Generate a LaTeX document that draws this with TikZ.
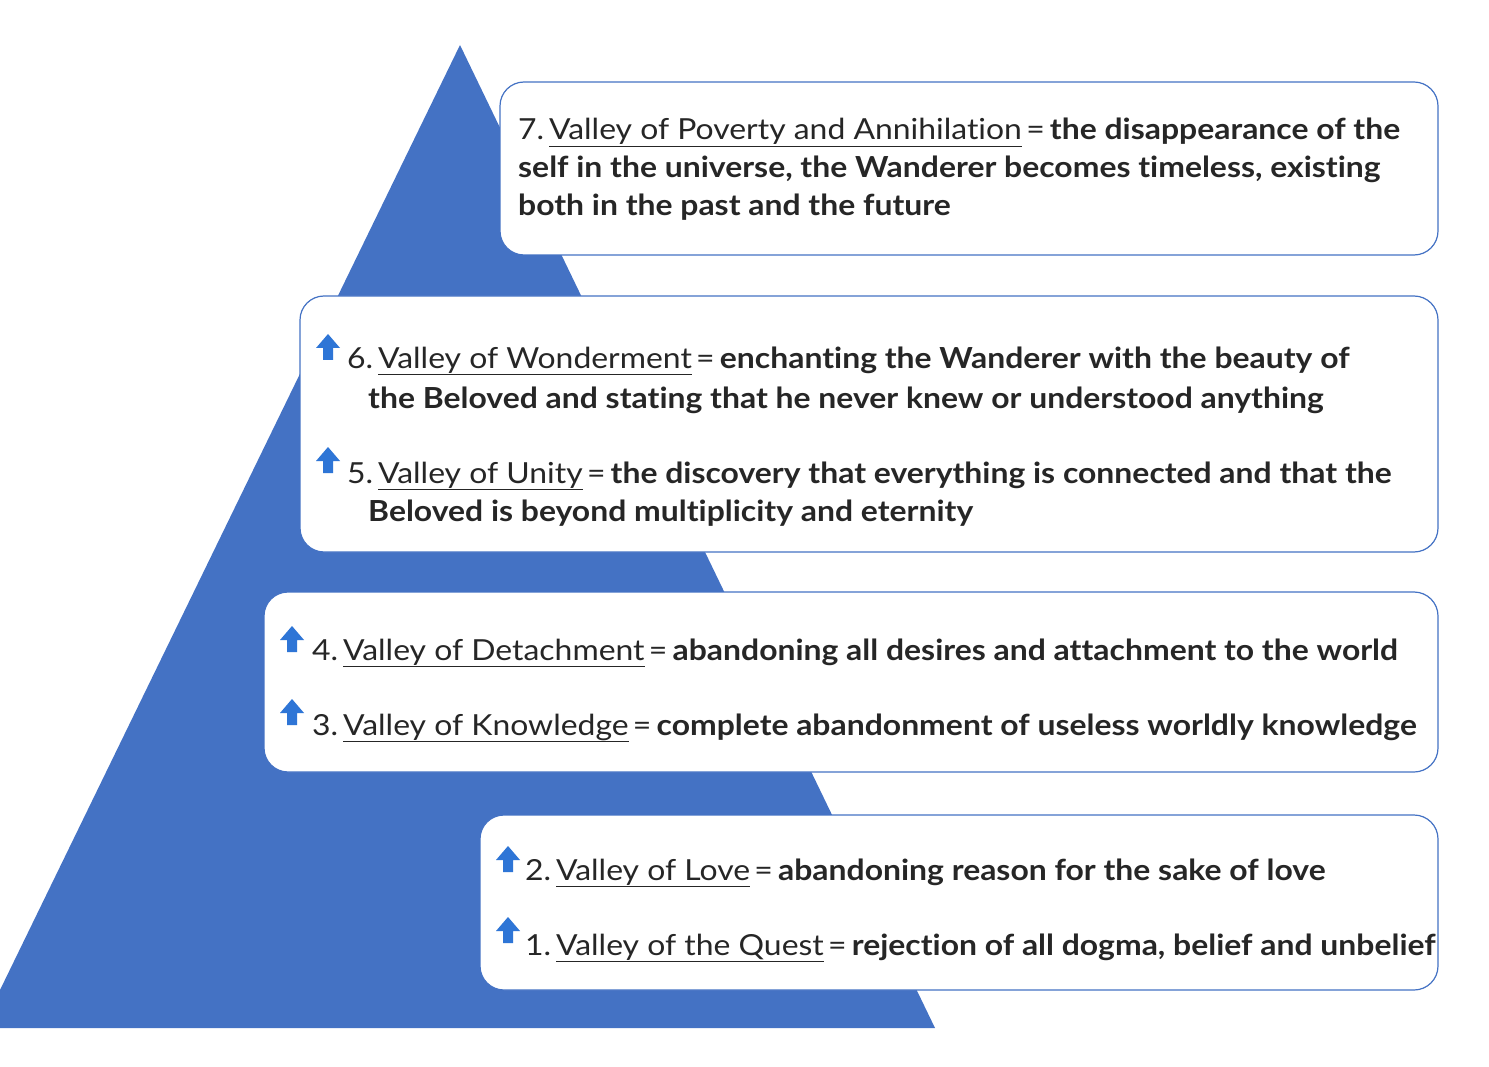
\documentclass[tikz,border=0pt]{standalone}
\usepackage{fontspec}
\setmainfont{Lato}[FakeStretch=1.1,Ligatures=NoCommon]
\usetikzlibrary{arrows.meta}
\definecolor{tri}{HTML}{4472C4}
\definecolor{arr}{HTML}{2E75D6}
\newcommand{\nm}[1]{\underline{#1}}
\newcommand{\eq}{\hspace{0.15em}=\hspace{0.18em}}
\tikzset{
 box/.style={draw=tri,line width=1.2pt,fill=white,rounded corners=24pt},
 txt/.style={anchor=base west,inner sep=0pt,font=\fontsize{29}{34}\selectfont,text=black!85},
 uparr/.style={fill=arr,draw=none}
}
\newcommand{\myup}[2]{\fill[uparr] (#1-12,#2) -- (#1,#2-14) -- (#1+12,#2) -- (#1+5,#2) -- (#1+5,#2+12) -- (#1-5,#2+12) -- (#1-5,#2) -- cycle;}
\begin{document}
\begin{tikzpicture}[x=1pt,y=-1pt]
\useasboundingbox (0,0) rectangle (1489,1067);
\fill[tri] (460,45) -- (935,1028) -- (0,1028) -- (0,990) -- cycle;
\draw[box] (500,82) rectangle (1438,255);
\draw[box] (300,296) rectangle (1438,552);
\draw[box] (264,592) rectangle (1438,772);
\draw[box] (480,815) rectangle (1438,990);
\node[txt] (t7a) at (518,140) {7.\,\nm{Valley of Poverty and Annihilation}\eq\textbf{the disappearance of the}};
\node[txt] (t7b) at (518,178) {\textbf{self in the universe, the Wanderer becomes timeless, existing}};
\node[txt] (t7c) at (518,216) {\textbf{both in the past and the future}};
\node[txt] (t6a) at (347,368) {6.\,\nm{Valley of Wonderment}\eq\textbf{enchanting the Wanderer with the beauty of}};
\node[txt] (t6b) at (368,408) {\textbf{the Beloved and stating that he never knew or understood anything}};
\node[txt] (t5a) at (347,483) {5.\,\nm{Valley of Unity}\eq\textbf{the discovery that everything is connected and that the}};
\node[txt] (t5b) at (368,521) {\textbf{Beloved is beyond multiplicity and eternity}};
\node[txt] (t4) at (312,660) {4.\,\nm{Valley of Detachment}\eq\textbf{abandoning all desires and attachment to the world}};
\node[txt] (t3) at (312,735) {3.\,\nm{Valley of Knowledge}\eq\textbf{complete abandonment of useless worldly knowledge}};
\node[txt] (t2) at (525,880) {2.\,\nm{Valley of Love}\eq\textbf{abandoning reason for the sake of love}};
\node[txt] (t1) at (525,955) {1.\,\nm{Valley of the Quest}\eq\textbf{rejection of all dogma, belief and unbelief}};
\myup{328}{348}
\myup{328}{461}
\myup{292}{640}
\myup{292}{713}
\myup{508}{860}
\myup{508}{931}
\end{tikzpicture}
\end{document}
